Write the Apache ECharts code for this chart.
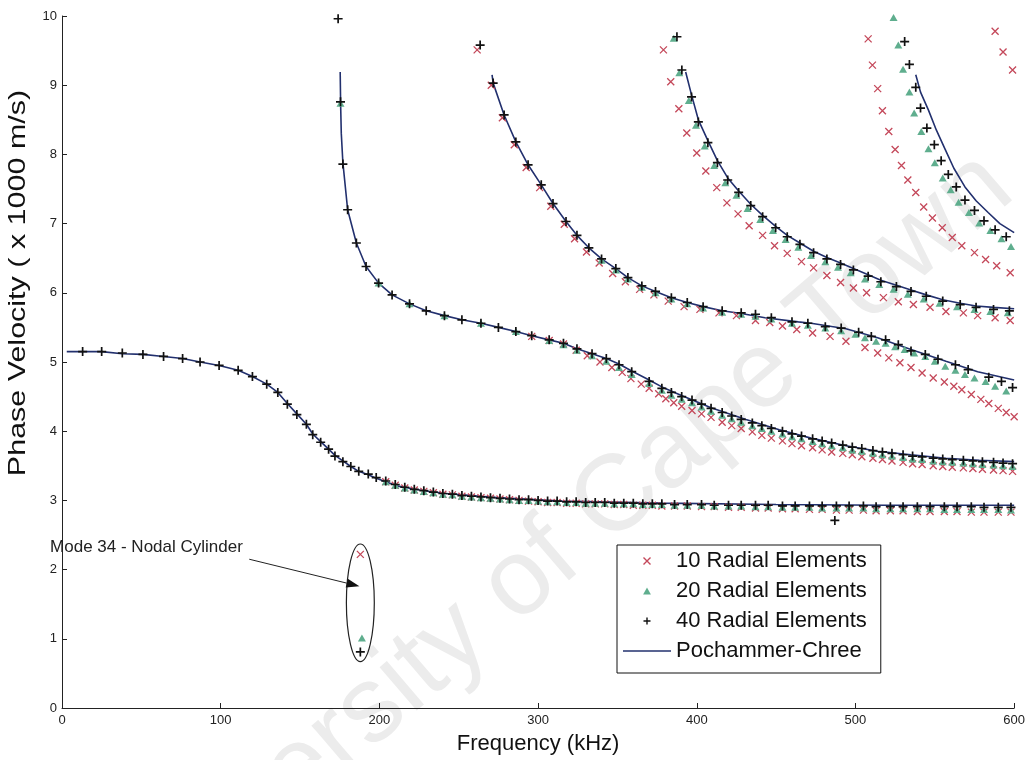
<!DOCTYPE html>
<html>
<head>
<meta charset="utf-8">
<script src="https://cdn.jsdelivr.net/npm/echarts@6/dist/echarts.min.js"></script>
<style>
html,body{margin:0;padding:0;background:#fff;}
#chart{width:1028px;height:760px;}
</style>
</head>
<body>
<div id="chart"></div>
<script>
// ---------- data (frequency kHz, phase velocity x1000 m/s) ----------
const seriesNames = ['10 Radial Elements', '20 Radial Elements', '40 Radial Elements', 'Pochammer-Chree'];
const xTitle = 'Frequency (kHz)';
const yTitle = 'Phase Velocity ( x 1000 m/s)';

// Pochammer-Chree analytical curves (one per mode)
const pc1 = [[3,5.15],[13,5.15],[25,5.15],[38,5.12],[51,5.11],[64,5.08],[76,5.05],[87,5.0],[99,4.95],[111,4.88],[120,4.79],[129,4.68],[136,4.56],[142,4.4],[148,4.25],[154,4.1],[158,3.96],[163,3.85],[168,3.74],[172,3.65],[177,3.57],[182,3.49],[187,3.42],[193,3.37],[198,3.32],[211,3.21],[228,3.14],[242,3.1],[274,3.04],[315,2.99],[378,2.96],[450,2.94],[520,2.93],[600,2.93]];
const pc2 = [[175.3,9.19],[175.6,8.7],[176,8.3],[177,7.88],[180,7.2],[185.5,6.72],[191.6,6.38],[199.5,6.14],[208,5.97],[219,5.84],[229.5,5.74],[241,5.67],[252,5.61],[264,5.56],[275,5.5],[286,5.44],[296,5.38],[307,5.32],[316,5.27],[324.5,5.19],[334,5.12],[343,5.05],[351,4.97],[359,4.87],[370,4.74],[378,4.64],[390,4.52],[409,4.34],[431,4.17],[452,4.02],[472,3.9],[494,3.79],[514,3.71],[535,3.66],[557,3.61],[578,3.58],[600,3.56]];
const pc3 = [[271,9.15],[271.7,9.03],[278.6,8.57],[286,8.18],[293.7,7.85],[302,7.56],[309.4,7.29],[317.6,7.03],[324.5,6.83],[332,6.65],[340,6.49],[349,6.35],[356.6,6.22],[365.4,6.1],[374,6.02],[384,5.93],[394,5.86],[404,5.8],[416,5.74],[428,5.7],[443,5.64],[464,5.58],[472,5.56],[494,5.48],[514,5.35],[535,5.18],[557,5.01],[577,4.86],[600,4.74]];
const pc4 = [[393,9.19],[396.7,8.86],[401,8.5],[407,8.2],[413,7.91],[419.5,7.66],[426.4,7.47],[434,7.28],[441.5,7.12],[449.7,6.96],[457,6.83],[465,6.72],[473.6,6.6],[482,6.51],[490.6,6.43],[498.7,6.35],[508,6.26],[516,6.18],[525.8,6.11],[535,6.04],[544.6,5.97],[555,5.9],[566,5.85],[576,5.81],[587,5.79],[600,5.77]];
const pc5 = [[538,9.15],[541,8.9],[546,8.64],[551,8.35],[556.6,8.07],[562,7.8],[569,7.53],[576,7.33],[583.6,7.16],[591,7.0],[600,6.87]];

// 40 radial elements (+)
const r40 = [
[13,5.15],[25,5.15],[38,5.13],[51,5.11],[64,5.08],[76,5.05],[87,5.0],[99,4.95],[111,4.88],[120,4.79],[129,4.68],[136,4.56],[142,4.39],[148,4.24],[154,4.1],[158,3.95],[163,3.84],[168,3.74],[172,3.64],[177,3.56],[182,3.49],[187,3.42],[193,3.38],[198,3.33],[204,3.28],[210,3.23],[216,3.19],[222,3.16],[228,3.14],[234,3.12],[240,3.1],[246,3.09],[252,3.07],[258,3.06],[264,3.05],[270,3.04],[276,3.03],[282,3.02],[288,3.01],[294,3.01],[300,3.0],[306,2.99],[312,2.99],[318,2.98],[324,2.98],[330,2.97],[336,2.97],[342,2.97],[348,2.96],[354,2.96],[360,2.96],[366,2.95],[372,2.95],[378,2.95],[386,2.94],[394,2.94],[403,2.94],[411,2.93],[420,2.93],[428,2.93],[437,2.93],[445,2.93],[454,2.92],[462,2.92],[471,2.92],[479,2.92],[487,2.71],[488,2.92],[496,2.92],[505,2.92],[513,2.91],[522,2.91],[530,2.91],[539,2.91],[547,2.91],[556,2.91],[564,2.91],[573,2.91],[581,2.9],[590,2.9],[598,2.9],
[174,9.96],[175.5,8.76],[177,7.86],[180,7.2],[185.5,6.72],[191.6,6.38],[199.5,6.14],[208,5.97],[219,5.84],[229.5,5.74],[241,5.67],[252,5.61],[264,5.56],[275,5.5],[286,5.44],[296,5.38],[307,5.32],[316,5.27],[324.5,5.19],[334,5.12],[343,5.05],[351,4.96],[359,4.86],[370,4.72],[378,4.62],[384,4.56],[390.5,4.5],[397,4.45],[403,4.39],[409,4.33],[416,4.27],[422,4.22],[428,4.17],[435,4.12],[441,4.08],[447,4.04],[454,4.0],[460,3.96],[466,3.93],[473,3.89],[479,3.86],[485,3.83],[492,3.8],[498,3.77],[504,3.75],[511,3.72],[517,3.7],[523,3.68],[530,3.66],[536,3.64],[542,3.63],[549,3.61],[555,3.6],[561,3.59],[568,3.58],[574,3.57],[580,3.56],[587,3.55],[593,3.54],[599,3.53],
[263.5,9.58],[271.7,9.03],[278.6,8.57],[286,8.18],[293.7,7.85],[302,7.56],[309.4,7.29],[317.6,7.03],[324.5,6.83],[332,6.65],[340,6.49],[349,6.35],[356.6,6.22],[365.4,6.1],[374,6.02],[384,5.93],[394,5.86],[404,5.8],[416,5.74],[428,5.71],[437,5.69],[447,5.64],[460,5.58],[470,5.56],[481,5.51],[491,5.49],[502,5.43],[510,5.37],[519,5.32],[527,5.25],[535,5.16],[544,5.11],[552,5.04],[563,4.96],[571,4.89],[584,4.78],[592,4.72],[599,4.63],
[387.5,9.7],[390.6,9.22],[396.7,8.83],[401,8.47],[407,8.17],[413,7.88],[419.5,7.63],[426.4,7.45],[434,7.26],[441.5,7.1],[449.7,6.94],[457,6.81],[465,6.7],[473.6,6.58],[482,6.49],[490.6,6.41],[498.7,6.33],[508,6.24],[516,6.16],[525.8,6.09],[535,6.02],[544.6,5.95],[555,5.88],[566,5.83],[576,5.79],[587,5.76],[597,5.74],
[531,9.63],[534,9.3],[538,8.97],[541,8.67],[545,8.38],[549.7,8.14],[554,7.91],[558.5,7.71],[563.5,7.53],[569,7.34],[575,7.19],[581,7.04],[588,6.91],[595,6.81],
[188,0.81]
];

// 20 radial elements (triangles)
const r20 = [
[204,3.27],[210,3.22],[216,3.18],[222,3.15],[228,3.13],[234,3.11],[240,3.09],[246,3.08],[252,3.06],[258,3.05],[264,3.04],[270,3.03],[276,3.02],[282,3.01],[288,3.0],[294,3.0],[300,2.99],[306,2.98],[312,2.98],[318,2.97],[324,2.97],[330,2.96],[336,2.96],[342,2.96],[348,2.95],[354,2.95],[360,2.95],[366,2.94],[372,2.94],[378,2.94],[386,2.93],[394,2.93],[403,2.93],[411,2.92],[420,2.92],[428,2.92],[437,2.91],[445,2.91],[454,2.9],[462,2.9],[471,2.9],[479,2.89],[488,2.89],[496,2.89],[505,2.89],[513,2.88],[522,2.88],[530,2.88],[539,2.88],[547,2.88],[556,2.87],[564,2.87],[573,2.87],[581,2.87],[590,2.87],[598,2.86],
[175.5,8.74],[199.5,6.14],[219,5.84],[241,5.67],[264,5.56],[286,5.44],[307,5.31],[316,5.25],[324.5,5.17],[334,5.09],[343,5.01],[351,4.92],[359,4.82],[370,4.69],[378,4.59],[384,4.52],[390.5,4.46],[397,4.41],[403,4.35],[409,4.29],[416,4.23],[422,4.18],[428,4.13],[435,4.08],[441,4.04],[447,4.0],[454,3.96],[460,3.92],[466,3.89],[473,3.85],[479,3.82],[485,3.79],[492,3.76],[498,3.73],[504,3.71],[511,3.68],[517,3.66],[523,3.64],[530,3.62],[536,3.6],[542,3.59],[549,3.57],[555,3.56],[561,3.55],[568,3.54],[574,3.53],[580,3.52],[587,3.51],[593,3.5],[599,3.49],
[340,6.47],[349,6.33],[356.6,6.2],[365.4,6.08],[374,6.0],[384,5.91],[394,5.84],[404,5.78],[416,5.72],[428,5.69],[437,5.66],[447,5.62],[460,5.56],[470,5.53],[481,5.49],[491,5.45],[500,5.4],[506,5.35],[513,5.3],[519,5.27],[525,5.22],[531,5.18],[537,5.13],[544,5.08],[550,5.01],[556.6,4.94],[563,4.88],[569,4.82],[575,4.77],[582,4.72],[588,4.65],[595,4.58],
[385.5,9.68],[389,9.18],[395,8.78],[399.5,8.42],[405,8.12],[411,7.84],[418,7.59],[425,7.41],[432,7.22],[440,7.06],[448,6.9],[456,6.77],[464,6.66],[472,6.54],[481,6.45],[489,6.37],[497,6.29],[506,6.2],[515,6.12],[524,6.05],[533,5.98],[543,5.91],[553,5.85],[564,5.8],[575,5.76],[585,5.73],[596,5.71],
[524,9.98],[527,9.58],[530,9.23],[534,8.9],[537,8.6],[541.5,8.33],[546,8.08],[550,7.88],[555,7.66],[560,7.49],[565,7.31],[571.5,7.16],[578,7.01],[585,6.9],[592,6.78],[598,6.67],
[189,1.01]
];

// 10 radial elements (x)
const r10 = [
[204,3.27],[210,3.22],[216,3.18],[222,3.15],[228,3.13],[234,3.11],[240,3.09],[246,3.08],[252,3.06],[258,3.05],[264,3.04],[270,3.03],[276,3.02],[282,3.01],[288,3.0],[294,2.99],[300,2.98],[306,2.97],[312,2.97],[318,2.96],[324,2.96],[330,2.95],[336,2.95],[342,2.95],[348,2.94],[354,2.94],[360,2.93],[366,2.93],[372,2.93],[378,2.92],[386,2.92],[394,2.92],[403,2.91],[411,2.91],[420,2.9],[428,2.9],[437,2.89],[445,2.89],[454,2.88],[462,2.88],[471,2.87],[479,2.87],[488,2.86],[496,2.86],[505,2.86],[513,2.85],[522,2.85],[530,2.85],[539,2.84],[547,2.84],[556,2.84],[564,2.84],[573,2.83],[581,2.83],[590,2.83],[598,2.83],
[296,5.37],[307,5.31],[316,5.26],[324,5.17],[331,5.09],[339,5.0],[346.5,4.92],[353,4.85],[358.5,4.76],[365,4.68],[370,4.62],[376,4.54],[380.5,4.47],[385.5,4.41],[390.5,4.36],[397,4.3],[403,4.25],[409,4.2],[416,4.13],[422,4.08],[428,4.04],[435,3.99],[441,3.94],[447,3.9],[454,3.86],[460,3.82],[466,3.79],[473,3.76],[479,3.73],[485,3.7],[492,3.68],[498,3.66],[504,3.63],[511,3.61],[517,3.59],[523,3.57],[530,3.55],[536,3.53],[542,3.52],[549,3.5],[555,3.49],[561,3.48],[568,3.47],[574,3.46],[580,3.45],[587,3.44],[593,3.43],[599,3.42],
[261.6,9.51],[270.5,9.0],[277.5,8.53],[285,8.14],[292.5,7.81],[301,7.52],[308,7.25],[316.5,6.99],[323,6.78],[330.5,6.59],[338.5,6.43],[347,6.28],[355,6.16],[364,6.05],[373,5.97],[382,5.88],[392,5.8],[402,5.76],[414,5.71],[425,5.67],[437,5.6],[446,5.57],[454,5.52],[463,5.47],[473,5.42],[484,5.37],[494,5.3],[506,5.21],[514,5.13],[521,5.06],[528,4.99],[535,4.92],[542,4.84],[549,4.77],[556,4.71],[562,4.65],[567,4.6],[573,4.53],[579,4.46],[584,4.4],[590,4.33],[595,4.27],[600,4.21],
[379,9.51],[383.6,9.05],[388.7,8.66],[393.7,8.31],[400,8.02],[405.7,7.76],[412.6,7.52],[419,7.3],[426,7.14],[433,6.97],[441.5,6.83],[449,6.68],[457,6.57],[466,6.45],[473.6,6.36],[482,6.25],[490.6,6.15],[498.7,6.07],[507,6.0],[517.6,5.93],[527,5.87],[536.5,5.83],[547,5.79],[557,5.73],[568,5.71],[577,5.67],[588,5.64],[597.5,5.6],
[508,9.67],[510.7,9.29],[514,8.95],[517,8.63],[521,8.33],[525,8.07],[529,7.84],[533,7.63],[538,7.45],[543,7.24],[548.5,7.08],[554.7,6.94],[561,6.8],[567,6.68],[575,6.58],[582,6.48],[589,6.39],[597.5,6.29],
[588,9.78],[593,9.48],[599,9.22],
[188,2.22]
];

// annotation (data units)
const noteLabel = 'Mode 34 - Nodal Cylinder';
const noteLabelAt = [-7.5, 2.32];
const noteArrow = [[118, 2.15], [187.4, 1.76]];
const noteEllipse = { cx: 188, cy: 1.52, rx: 8.8, ry: 0.85 };

const watermark = 'University of Cape Town';

// ---------- styles ----------
const RED = '#c4485a', GREEN = '#5fae8e', BLACK = '#111111', LINE = '#22306e';
const X_PATH = 'path://M0,0L10,10M10,0L0,10';
const PLUS_PATH = 'path://M5,0L5,10M0,5L10,5';
const TRI_PATH = 'path://M5,0L10,9L0,9Z';
const BAR_PATH = 'path://M0,0L52,0L52,1.6L0,1.6Z';
const FONT = 'Liberation Sans, Arial, Helvetica, sans-serif';

const chart = echarts.init(document.getElementById('chart'), null, { renderer: 'canvas' });

const pcSeries = [pc1, pc2, pc3, pc4, pc5].map(d => ({
  name: seriesNames[3], type: 'line', data: d, symbol: 'none', showSymbol: false, z: 3,
  lineStyle: { color: LINE, width: 1.6 }, itemStyle: { color: LINE },
  smooth: false, silent: true
}));

const option = {
  animation: false,
  backgroundColor: '#ffffff',
  graphic: [
    {
      type: 'text', z: -10, silent: true,
      x: 556, y: 552, rotation: 40.6 * Math.PI / 180,
      style: { text: watermark, font: '108px ' + FONT, fill: '#ececec', align: 'center', verticalAlign: 'middle' }
    },
    {
      type: 'text', z: 10, silent: true,
      x: 18, y: 283, rotation: Math.PI / 2, scaleX: 1.27,
      style: { text: yTitle, font: '24px ' + FONT, fill: '#111', align: 'center', verticalAlign: 'middle' }
    }
  ],
  grid: { left: 62, right: 12, top: 16, bottom: 51, containLabel: false },
  xAxis: {
    type: 'value', min: 0, max: 600, interval: 100,
    name: xTitle, nameLocation: 'middle', nameGap: 25,
    nameTextStyle: { fontSize: 22, fontFamily: FONT, color: '#111' },
    axisLine: { lineStyle: { color: '#222', width: 1 } },
    axisTick: { inside: true, length: 5, lineStyle: { color: '#222' } },
    axisLabel: { fontSize: 13, fontFamily: FONT, color: '#222', margin: 6 },
    splitLine: { show: false }
  },
  yAxis: {
    type: 'value', min: 0, max: 10, interval: 1,
    axisLine: { show: true, lineStyle: { color: '#222', width: 1 } },
    axisTick: { show: true, inside: true, length: 5, lineStyle: { color: '#222' } },
    axisLabel: { fontSize: 13, fontFamily: FONT, color: '#222', margin: 5 },
    splitLine: { show: false }
  },
  legend: {
    orient: 'vertical', left: 617, top: 545,
    padding: [5, 14, 11, 6], itemGap: 8, itemWidth: 48, itemHeight: 7,
    backgroundColor: '#ffffff', borderColor: '#111', borderWidth: 1,
    textStyle: { fontSize: 22, fontFamily: FONT, color: '#111', lineHeight: 21 },
    data: [
      { name: seriesNames[0], icon: X_PATH, itemStyle: { color: 'transparent', borderColor: RED, borderWidth: 1.4 } },
      { name: seriesNames[1], icon: TRI_PATH, itemStyle: { color: GREEN, borderWidth: 0 } },
      { name: seriesNames[2], icon: PLUS_PATH, itemStyle: { color: 'transparent', borderColor: BLACK, borderWidth: 1.4 } },
      { name: seriesNames[3], icon: BAR_PATH, itemStyle: { color: LINE, borderWidth: 0 } }
    ]
  },
  series: [
    ...pcSeries,
    {
      name: seriesNames[0], type: 'scatter', data: r10, z: 4,
      symbol: X_PATH, symbolSize: 7,
      itemStyle: { color: 'transparent', borderColor: RED, borderWidth: 1.3, opacity: 1 }
    },
    {
      name: seriesNames[1], type: 'scatter', data: r20, z: 5,
      symbol: 'triangle', symbolSize: [8, 7],
      itemStyle: { color: GREEN, opacity: 1 }
    },
    {
      name: seriesNames[2], type: 'scatter', data: r40, z: 6,
      symbol: PLUS_PATH, symbolSize: 9,
      itemStyle: { color: 'transparent', borderColor: BLACK, borderWidth: 1.7, opacity: 1 }
    },
    {
      type: 'custom', silent: true, clip: false, z: 7,
      data: [[noteEllipse.cx, noteEllipse.cy]],
      renderItem: function (params, api) {
        const c = api.coord([noteEllipse.cx, noteEllipse.cy]);
        const e = api.coord([noteEllipse.cx + noteEllipse.rx, noteEllipse.cy + noteEllipse.ry]);
        const p0 = api.coord(noteArrow[0]);
        const p1 = api.coord(noteArrow[1]);
        const t = api.coord(noteLabelAt);
        const ang = Math.atan2(p1[1] - p0[1], p1[0] - p0[0]);
        const hl = 13, hw = 4.5;
        const bx = p1[0] - hl * Math.cos(ang), by = p1[1] - hl * Math.sin(ang);
        const head = [
          p1,
          [bx + hw * Math.sin(ang), by - hw * Math.cos(ang)],
          [bx - hw * Math.sin(ang), by + hw * Math.cos(ang)]
        ];
        return {
          type: 'group',
          children: [
            { type: 'ellipse', shape: { cx: c[0], cy: c[1], rx: e[0] - c[0], ry: c[1] - e[1] },
              style: { fill: 'none', stroke: '#222', lineWidth: 1.2 } },
            { type: 'line', shape: { x1: p0[0], y1: p0[1], x2: bx, y2: by },
              style: { stroke: '#222', lineWidth: 1 } },
            { type: 'polygon', shape: { points: head }, style: { fill: '#111' } },
            { type: 'text', x: t[0], y: t[1],
              style: { text: noteLabel, font: '17px ' + FONT, fill: '#222', verticalAlign: 'middle', align: 'left' } }
          ]
        };
      }
    }
  ]
};
chart.setOption(option);
</script>
</body>
</html>
